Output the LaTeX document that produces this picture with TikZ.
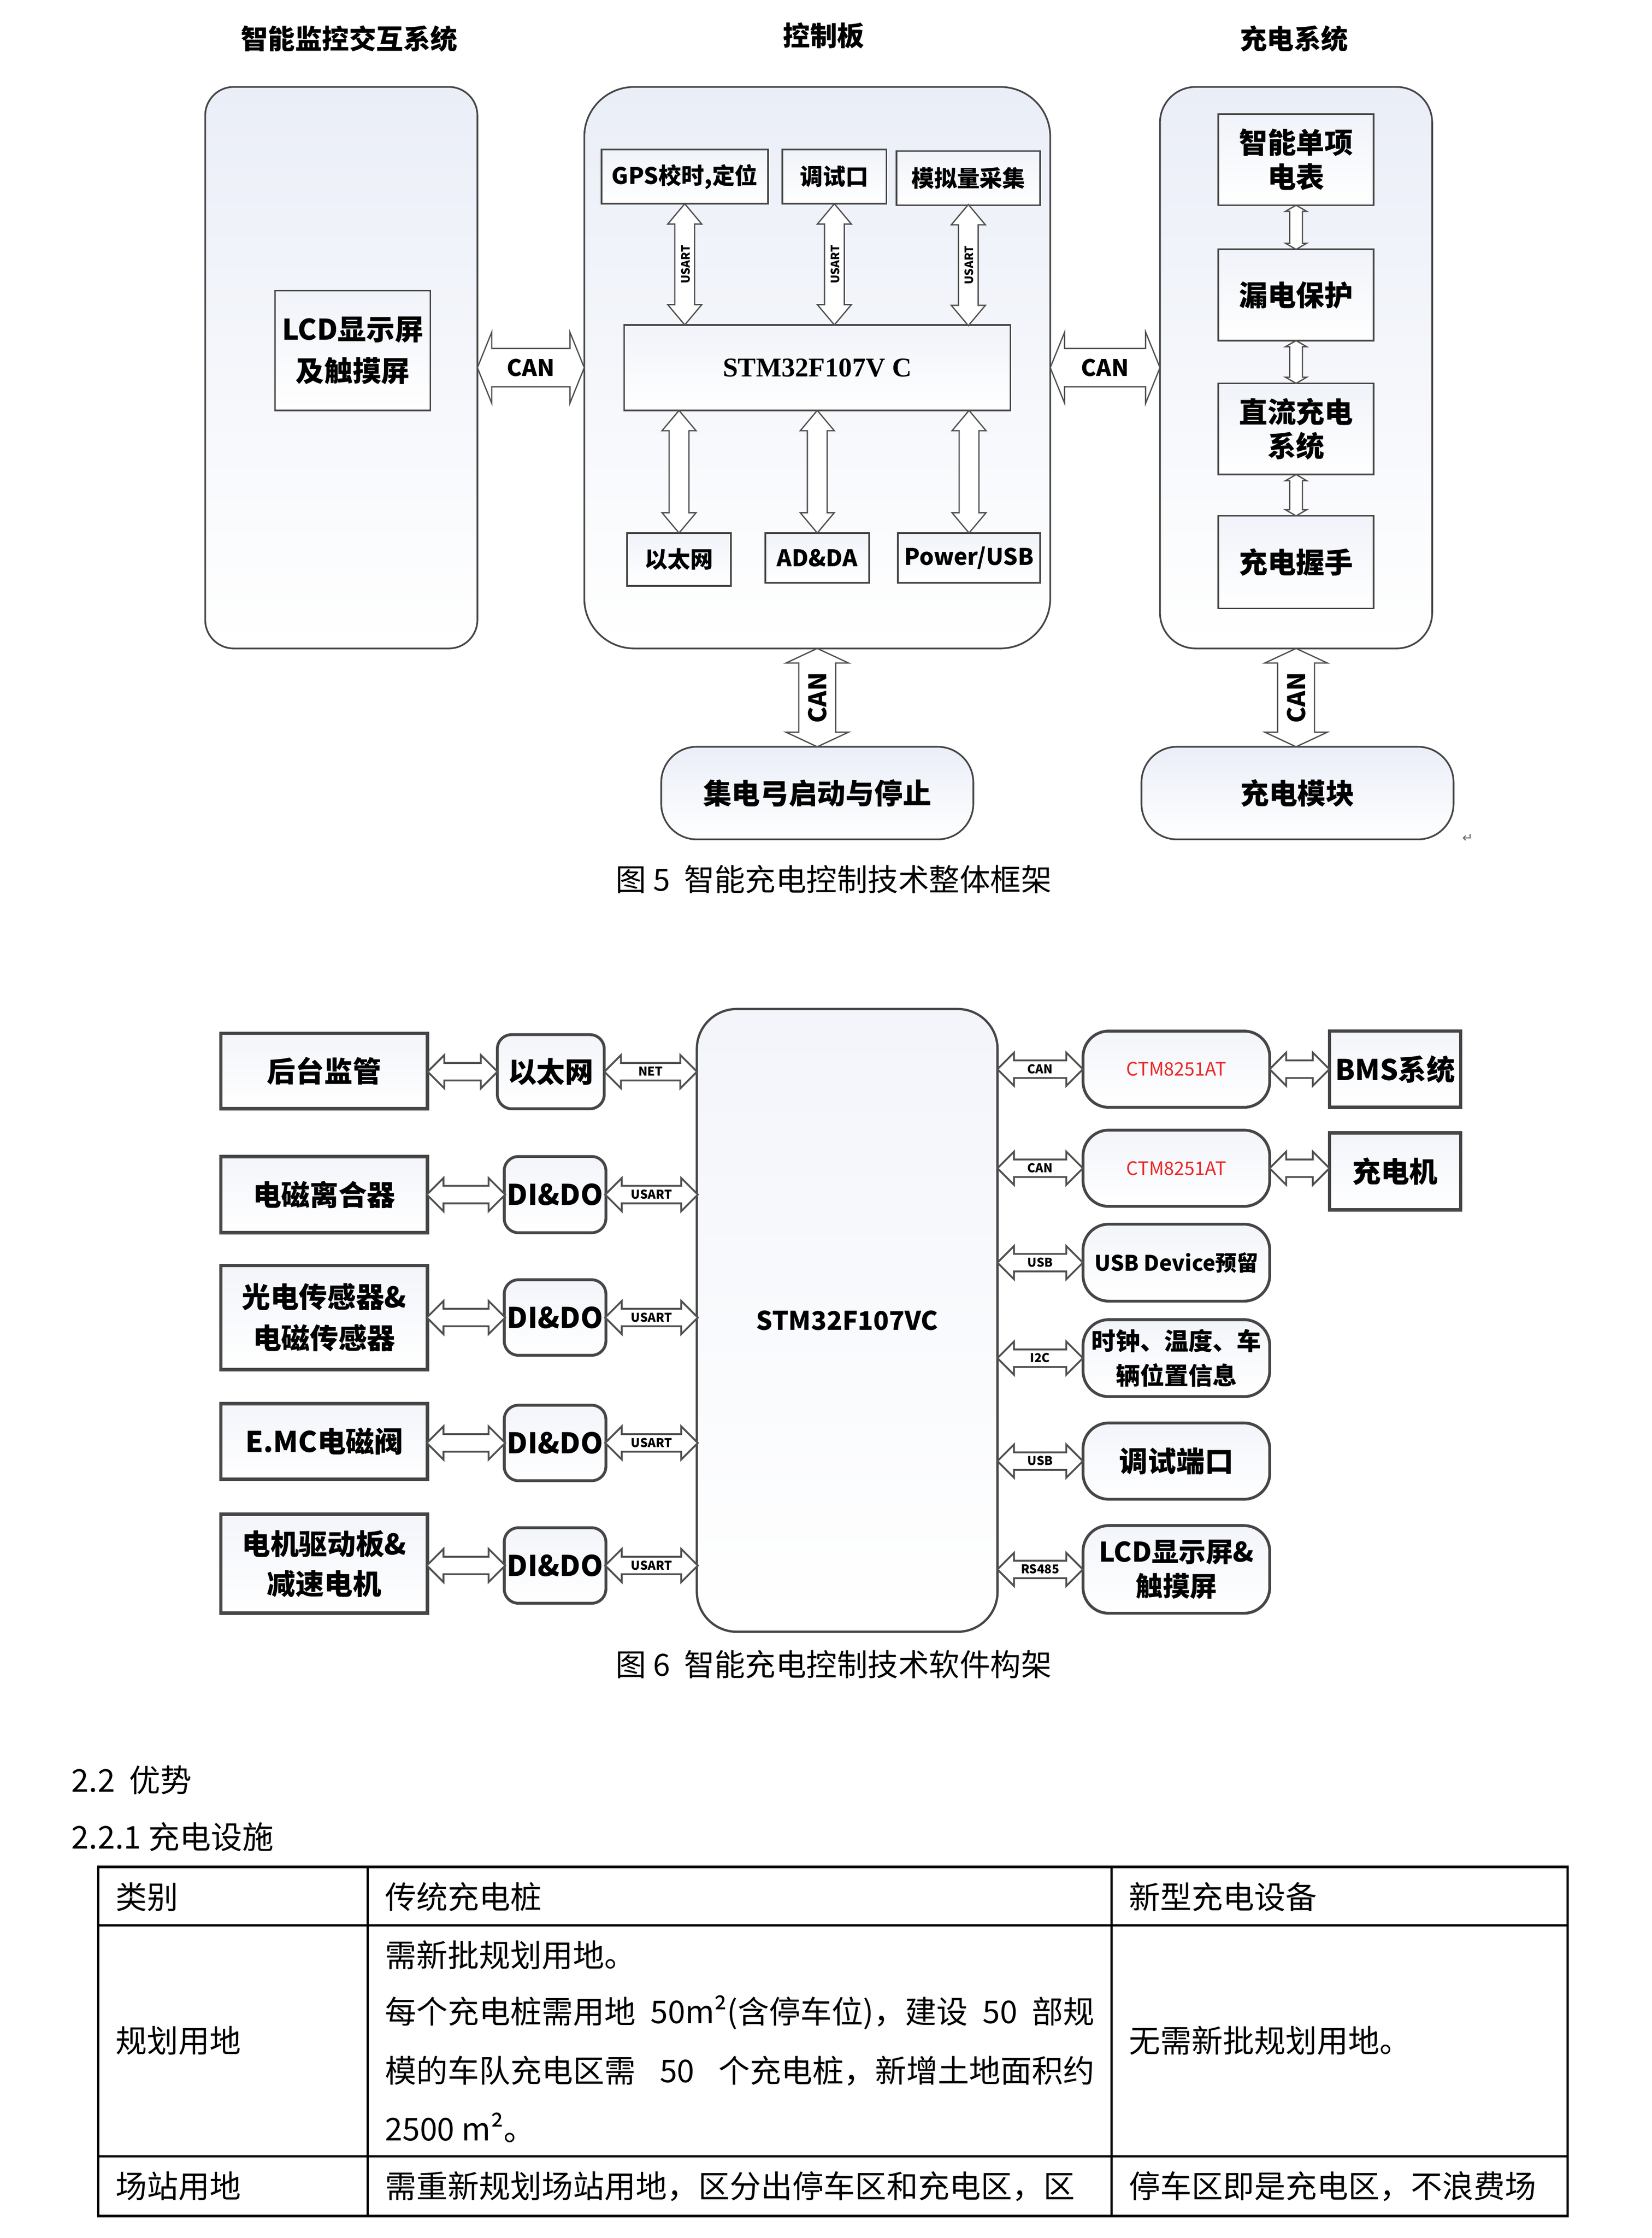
\documentclass[tikz,border=0pt]{standalone}
\usepackage{fontspec}
\setmainfont{Noto Sans CJK SC}
\newfontfamily\latinserif{Liberation Serif}
\newfontfamily\symfont{DejaVu Sans}
\usetikzlibrary{shapes.arrows,calc}
\XeTeXlinebreaklocale "zh"
\XeTeXlinebreakskip=0pt plus 1pt

\definecolor{boxline}{RGB}{70,70,70}
\definecolor{arrline}{RGB}{80,80,80}
\definecolor{boxtop}{RGB}{234,238,247}
\definecolor{chipred}{RGB}{235,40,40}

\tikzset{
	panel/.style={draw=boxline, line width=1.2pt, top color=boxtop, bottom color=white},
	unit/.style={draw=boxline, line width=1.2pt, top color=boxtop!70, bottom color=white, inner sep=2pt},
	lbox/.style={draw=boxline, line width=2.4pt, top color=boxtop!60, bottom color=white, inner sep=2pt},
	mbox/.style={lbox, line width=2pt, rounded corners=10pt},
	rbox/.style={lbox, line width=2pt, rounded corners=18pt},
	ttl/.style={font=\bfseries\fontsize{19}{22}\selectfont},
	lbl/.style={font=\bfseries\fontsize{16}{19}\selectfont},
	biglbl/.style={font=\bfseries\fontsize{20}{24}\selectfont, align=center},
	figcap/.style={font=\fontsize{21.5}{25}\selectfont},
	body/.style={font=\fontsize{22}{26}\selectfont, anchor=west, inner sep=0pt},
	tabline/.style={line width=1.6pt, black},
	dbl/.style={double arrow, draw=arrline, fill=white, line width=0.9pt, inner xsep=0pt, text depth=0pt},
	canarrow/.style={dbl, text height=12pt, inner ysep=7pt, double arrow head extend=11.5pt, double arrow tip angle=136, font=\bfseries\fontsize{16}{16}\selectfont},
	usartarrow/.style={dbl, rotate=90, text height=7pt, inner ysep=3pt, double arrow head extend=5pt, double arrow tip angle=80, font=\bfseries\fontsize{8}{8}\selectfont},
	canvarrow/.style={dbl, rotate=90, text height=13pt, inner ysep=6pt, double arrow head extend=9pt, double arrow tip angle=130, font=\bfseries\fontsize{17}{17}\selectfont},
	linkarrow/.style={dbl, rotate=90, text height=0pt, inner ysep=4pt, double arrow head extend=3pt, double arrow tip angle=120},
	busarrow/.style={dbl, line width=1.3pt, text height=6pt, inner ysep=2.5pt, double arrow head extend=5.5pt, double arrow tip angle=90, font=\bfseries\fontsize{8.5}{8.5}\selectfont},
}

\begin{document}
\begin{tikzpicture}[x=1pt,y=-1pt]
	\useasboundingbox (0,0) rectangle (1159,1570.4);

	% Fig. 5: overall frame
	\node[ttl] (tmon) at (245,27) {智能监控交互系统};
	\node[ttl] (tctl) at (578,25) {控制板};
	\node[ttl] (tchg) at (908,27) {充电系统};

	\node[panel, rounded corners=20pt, minimum width=191pt, minimum height=394pt] (mon) at (239.5,258) {};
	\node[panel, rounded corners=35pt, minimum width=327pt, minimum height=394pt] (ctl) at (573.5,258) {};
	\node[panel, rounded corners=25pt, minimum width=191pt, minimum height=394pt] (chg) at (909.5,258) {};

	\node[unit, biglbl, font=\bfseries\fontsize{20}{29}\selectfont, minimum width=109pt, minimum height=84pt] (lcd) at (247.5,246) {LCD显示屏\\及触摸屏};

	\node[unit, lbl, minimum width=117pt, minimum height=38pt] (gps) at (480.5,124) {GPS校时,定位};
	\node[unit, lbl, minimum width=73pt, minimum height=38pt] (dbg) at (585.5,124) {调试口};
	\node[unit, lbl, minimum width=101pt, minimum height=38pt] (adc) at (679.5,125) {模拟量采集};
	\node[unit, font=\latinserif\bfseries\fontsize{19}{22}\selectfont, minimum width=271pt, minimum height=60pt] (stm) at (573.5,258) {STM32F107V C};
	\node[unit, lbl, minimum width=73pt, minimum height=37pt] (eth) at (476.5,392.5) {以太网};
	\node[unit, lbl, minimum width=73pt, minimum height=35pt] (adda) at (573.5,391.5) {AD\&DA};
	\node[unit, lbl, minimum width=100pt, minimum height=35pt] (pwr) at (680,391.5) {Power/USB};

	\node[unit, biglbl, minimum width=109pt, minimum height=64pt] (meter) at (909.5,112) {智能单项\\电表};
	\node[unit, biglbl, minimum width=109pt, minimum height=64pt] (leak) at (909.5,207) {漏电保护};
	\node[unit, biglbl, minimum width=109pt, minimum height=64pt] (dcs) at (909.5,301) {直流充电\\系统};
	\node[unit, biglbl, minimum width=109pt, minimum height=65pt] (hand) at (909.5,394.5) {充电握手};

	\node[panel, biglbl, rounded corners=25pt, minimum width=219pt, minimum height=65pt] (pant) at (573.5,556.5) {集电弓启动与停止};
	\node[panel, biglbl, rounded corners=25pt, minimum width=219pt, minimum height=65pt] (cmod) at (910.5,556.5) {充电模块};

	% links
	\node[canarrow, minimum height=75pt] (canl) at ($(mon.east)!.5!(ctl.west)$) {CAN};
	\node[canarrow, minimum height=77pt] (canr) at ($(ctl.east)!.5!(chg.west)$) {CAN};
	\foreach \b in {gps,dbg,adc}
		\node[usartarrow, minimum height=85pt] (u\b) at ($(\b.south)!.5!(\b.south |- stm.north)$) {USART};
	\foreach \b in {eth,adda,pwr}
		\node[usartarrow, minimum height=86pt] (l\b) at ($(\b.north)!.5!(\b.north |- stm.south)$) {};
	\node[linkarrow, minimum height=31pt] (k1) at ($(meter.south)!.5!(leak.north)$) {};
	\node[linkarrow, minimum height=30pt] (k2) at ($(leak.south)!.5!(dcs.north)$) {};
	\node[linkarrow, minimum height=29pt] (k3) at ($(dcs.south)!.5!(hand.north)$) {};
	\node[canvarrow, minimum height=69pt] (canp) at ($(ctl.south)!.5!(pant.north)$) {CAN};
	\node[canvarrow, minimum height=69pt] (canm) at ($(chg.south)!.5!(chg.south |- cmod.north)$) {CAN};

	\node[figcap] (cap5) at (585,617) {图 5\ \ 智能充电控制技术整体框架};
	\node[font=\symfont\fontsize{9}{9}\selectfont, text=black!60] (pm) at (1030,588) {↵};

	% Fig. 6: software frame
	\node[rbox, line width=1.6pt, rounded corners=28pt, font=\bfseries\fontsize{18}{22}\selectfont, minimum width=211pt, minimum height=437pt] (core) at (594.5,926.5) {STM32F107VC};

	\node[lbox, biglbl, minimum width=145pt, minimum height=53pt] (bg) at (227.5,751.5) {后台监管};
	\node[lbox, biglbl, minimum width=145pt, minimum height=53.5pt] (clu) at (227.5,838.25) {电磁离合器};
	\node[lbox, biglbl, font=\bfseries\fontsize{20}{29}\selectfont, minimum width=145pt, minimum height=73pt] (sen) at (227.5,924.5) {光电传感器\&\\电磁传感器};
	\node[lbox, biglbl, minimum width=145pt, minimum height=53pt] (emc) at (227.5,1011.5) {E.MC电磁阀};
	\node[lbox, biglbl, font=\bfseries\fontsize{20}{28}\selectfont, minimum width=145pt, minimum height=69.5pt] (mot) at (227.5,1097.25) {电机驱动板\&\\减速电机};

	\node[mbox, biglbl, minimum width=75pt, minimum height=52pt] (net) at (386.5,752) {以太网};
	\node[mbox, biglbl, minimum width=69pt, minimum height=53.5pt] (dio1) at (389.5,838.25) {DI\&DO};
	\node[mbox, biglbl, minimum width=69pt, minimum height=53pt] (dio2) at (389.5,924.5) {DI\&DO};
	\node[mbox, biglbl, minimum width=69pt, minimum height=53pt] (dio3) at (389.5,1012.5) {DI\&DO};
	\node[mbox, biglbl, minimum width=69pt, minimum height=53pt] (dio4) at (389.5,1098.5) {DI\&DO};

	\node[rbox, font=\fontsize{13}{16}\selectfont, text=chipred, minimum width=131pt, minimum height=53.5pt] (ctm1) at (825.5,750.25) {CTM8251AT};
	\node[rbox, font=\fontsize{13}{16}\selectfont, text=chipred, minimum width=131pt, minimum height=53.5pt] (ctm2) at (825.5,819.75) {CTM8251AT};
	\node[rbox, biglbl, font=\bfseries\fontsize{15}{18}\selectfont, minimum width=131pt, minimum height=54pt] (usbd) at (825.5,886) {USB Device预留};
	\node[rbox, biglbl, font=\bfseries\fontsize{17}{24}\selectfont, minimum width=131pt, minimum height=54pt] (clk) at (825.5,953) {时钟、温度、车\\辆位置信息};
	\node[rbox, biglbl, minimum width=131pt, minimum height=53.5pt] (dbgp) at (825.5,1025.25) {调试端口};
	\node[rbox, biglbl, font=\bfseries\fontsize{19}{24}\selectfont, minimum width=131pt, minimum height=61.5pt] (lcdb) at (825.5,1101.25) {LCD显示屏\&\\触摸屏};
	\node[lbox, biglbl, minimum width=92pt, minimum height=53.5pt] (bms) at (979,750.25) {BMS系统};
	\node[lbox, biglbl, minimum width=92pt, minimum height=54pt] (chm) at (979,822) {充电机};

	% bus arrows
	\node[busarrow, minimum height=49pt] (a0) at ($(bg.east |- net.west)!.5!(net.west)$) {};
	\foreach \l/\m in {clu/dio1,sen/dio2,emc/dio3,mot/dio4}
		\node[busarrow, minimum height=55pt] (a\m) at ($(\l.east |- \m.west)!.5!(\m.west)$) {};
	\node[busarrow, minimum height=65pt] (bnet) at ($(net.east)!.5!(core.west |- net.east)$) {NET};
	\foreach \m in {dio1,dio2,dio3,dio4}
		\node[busarrow, minimum height=65pt] (b\m) at ($(\m.east)!.5!(core.west |- \m.east)$) {USART};
	\foreach \r/\t in {ctm1/CAN,ctm2/CAN,usbd/USB,clk/I2C,dbgp/USB,lcdb/RS485}
		\node[busarrow, minimum height=60pt] (c\r) at ($(core.east |- \r.west)!.5!(\r.west)$) {\t};
	\node[busarrow, minimum height=42pt] (dbms) at ($(ctm1.east)!.5!(bms.west)$) {};
	\node[busarrow, minimum height=42pt] (dchm) at ($(ctm2.east)!.5!(ctm2.east -| chm.west)$) {};

	\node[figcap] (cap6) at (585,1168) {图 6\ \ 智能充电控制技术软件构架};

	% text and table
	\node[body] (h1) at (50,1249) {2.2\ \ 优势};
	\node[body] (h2) at (50,1289) {2.2.1 充电设施};

	\draw[tabline] (69,1310) rectangle (1100,1555);
	\draw[tabline] (69,1351) -- (1100,1351);
	\draw[tabline] (69,1513) -- (1100,1513);
	\draw[tabline] (258,1310) -- (258,1555);
	\draw[tabline] (780,1310) -- (780,1555);

	\node[body] (c11) at (81,1331) {类别};
	\node[body] (c12) at (270,1331) {传统充电桩};
	\node[body] (c13) at (792,1331) {新型充电设备};
	\node[body] (c21) at (81,1432) {规划用地};
	\node[body] (c22a) at (270,1372) {需新批规划用地。};
	\node[body] (c22b) at (270,1412) {\makebox[498pt][s]{每个充电桩需用地 50m²(含停车位)，建设 50 部规}};
	\node[body] (c22c) at (270,1453) {\makebox[498pt][s]{模的车队充电区需 50 个充电桩，新增土地面积约}};
	\node[body] (c22d) at (270,1493) {2500 m²。};
	\node[body] (c23) at (792,1432) {无需新批规划用地。};
	\node[body] (c31) at (81,1534) {场站用地};
	\node[body] (c32) at (270,1534) {\makebox[498pt][s]{需重新规划场站用地，区分出停车区和充电区，区}};
	\node[body] (c33) at (792,1534) {\makebox[296pt][s]{停车区即是充电区，不浪费场}};
\end{tikzpicture}
\end{document}
